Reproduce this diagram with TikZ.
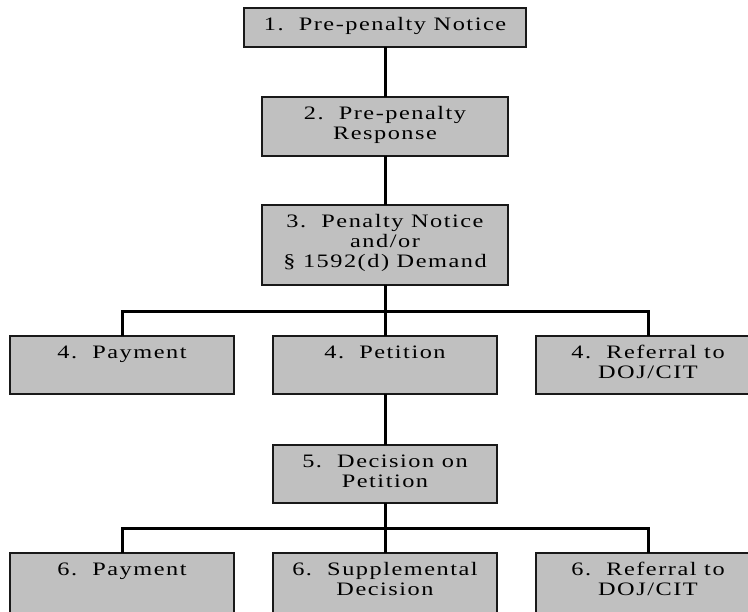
\documentclass[tikz,border=0pt]{standalone}
\usepackage{fontspec}
\setmainfont{Liberation Serif}[LetterSpace=8,FakeStretch=1.28]
\definecolor{boxgray}{HTML}{C0C0C0}
\tikzset{
  box/.style={draw=black!90, line width=1.5pt, fill=boxgray, inner sep=0pt, outer sep=0pt, anchor=north west},
  link/.style={line width=3pt, black}
}
\newcommand{\boxtext}[3]{\parbox[t][#2][t]{#1}{\centering\fontsize{19pt}{20pt}\selectfont\rule{0pt}{23pt}#3}}
\begin{document}
\begin{tikzpicture}[x=1pt,y=-1pt]
\useasboundingbox (0,0) rectangle (748,612);
\coordinate (j1) at (385,312);
\coordinate (j2) at (385,529);
\node[box] (b1) at (244,8) {\boxtext{282pt}{39pt}{1.~~Pre-penalty Notice}};
\node[box] (b2) at (262,97) {\boxtext{246pt}{59pt}{2.~~Pre-penalty\\Response}};
\node[box] (b3) at (262,205) {\boxtext{246pt}{80pt}{3.~~Penalty Notice\\and/or\\\S\ 1592(d) Demand}};
\node[box] (pay4) at (10,336) {\boxtext{224pt}{58pt}{4.~~Payment}};
\node[box] (pet4) at (273,336) {\boxtext{224pt}{58pt}{4.~~Petition}};
\node[box] (ref4) at (536,336) {\boxtext{224pt}{58pt}{4.~~Referral to\\DOJ/CIT}};
\node[box] (dec5) at (273,445) {\boxtext{224pt}{58pt}{5.~~Decision on\\Petition}};
\node[box] (pay6) at (10,553) {\boxtext{224pt}{62pt}{6.~~Payment}};
\node[box] (sup6) at (273,553) {\boxtext{224pt}{62pt}{6.~~Supplemental\\Decision}};
\node[box] (ref6) at (536,553) {\boxtext{224pt}{62pt}{6.~~Referral to\\DOJ/CIT}};
\draw[link] (b1.south) -- (b2.north);
\draw[link] (b2.south) -- (b3.north);
\draw[link] (b3.south) -- (j1) -- (pet4.north);
\draw[link] (pay4.north) |- (j1) -| (ref4.north);
\draw[link] (pet4.south) -- (dec5.north);
\draw[link] (dec5.south) -- (j2) -- (sup6.north);
\draw[link] (pay6.north) |- (j2) -| (ref6.north);
\end{tikzpicture}
\end{document}
